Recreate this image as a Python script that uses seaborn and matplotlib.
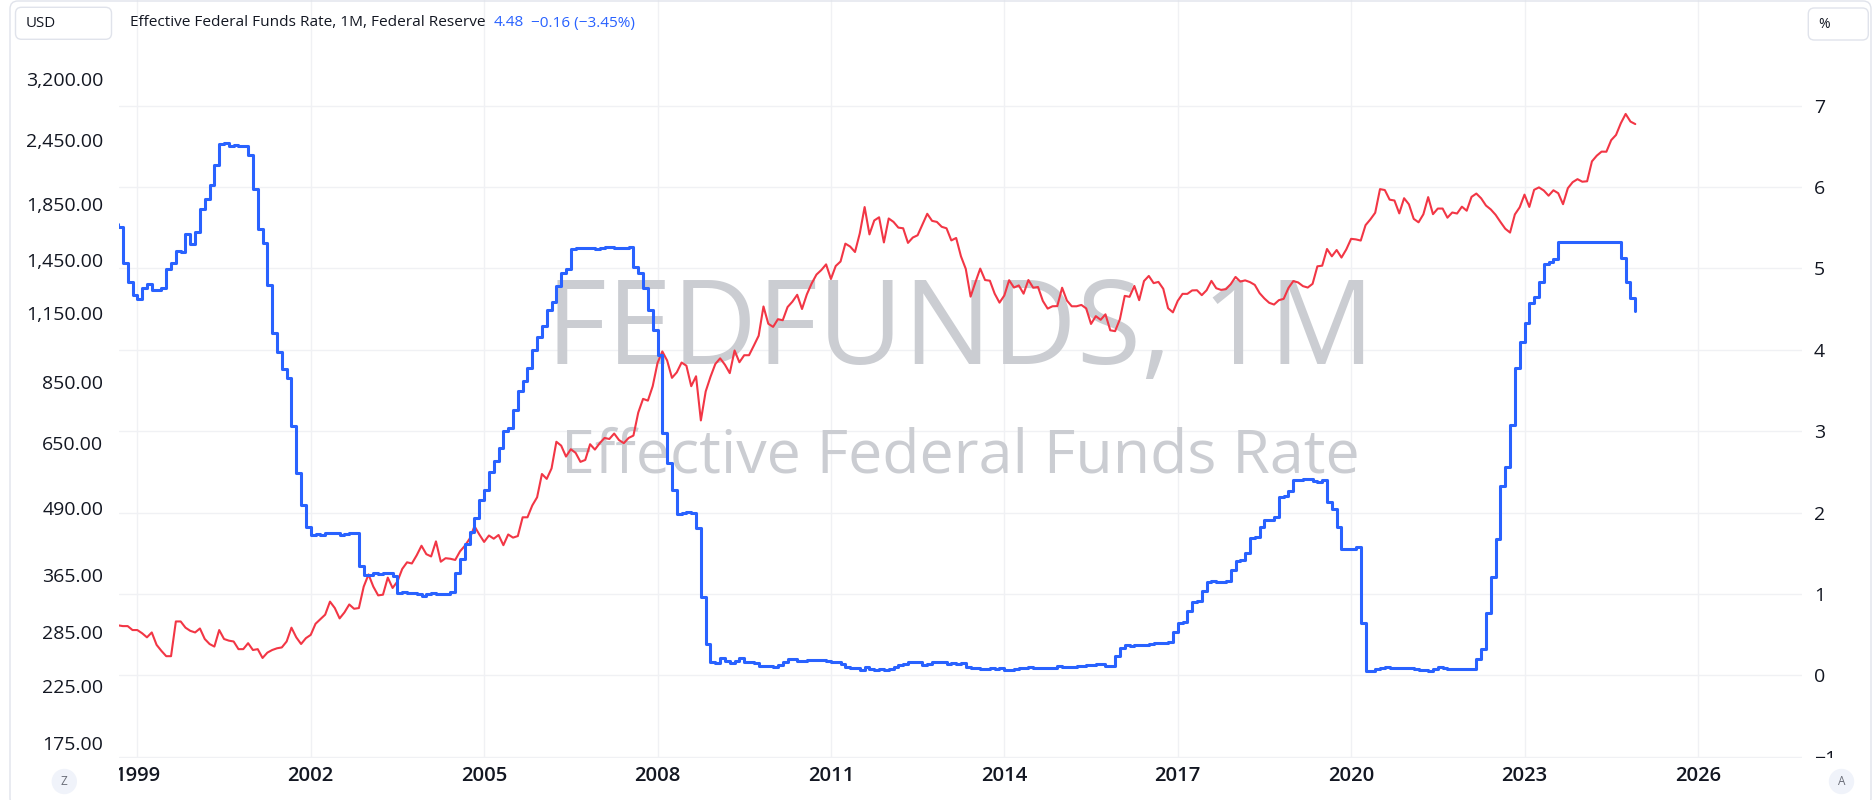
import numpy as np
import pandas as pd
import matplotlib
matplotlib.use("Agg")
import matplotlib.pyplot as plt
import seaborn as sns
from matplotlib.patches import FancyBboxPatch, Circle
from matplotlib.transforms import Bbox, IdentityTransform
from matplotlib.ticker import FixedLocator, FuncFormatter, NullLocator, FixedFormatter

# ---------------- data ----------------
start_year, start_month = 1998, 8

fed_funds = [
    5.55, 5.51, 5.07, 4.83, 4.68,
    4.63, 4.76, 4.81, 4.74, 4.74, 4.76, 4.99, 5.07, 5.22, 5.20, 5.42, 5.30,
    5.45, 5.73, 5.85, 6.02, 6.27, 6.53, 6.54, 6.50, 6.52, 6.51, 6.51, 6.40,
    5.98, 5.49, 5.31, 4.80, 4.21, 3.97, 3.77, 3.65, 3.07, 2.49, 2.09, 1.82,
    1.73, 1.74, 1.73, 1.75, 1.75, 1.75, 1.73, 1.74, 1.75, 1.75, 1.34, 1.24,
    1.24, 1.26, 1.25, 1.26, 1.26, 1.22, 1.01, 1.03, 1.01, 1.01, 1.00, 0.98,
    1.00, 1.01, 1.00, 1.00, 1.00, 1.03, 1.26, 1.43, 1.61, 1.76, 1.93, 2.16,
    2.28, 2.50, 2.63, 2.79, 3.00, 3.04, 3.26, 3.50, 3.62, 3.78, 4.00, 4.16,
    4.29, 4.49, 4.59, 4.79, 4.94, 4.99, 5.24, 5.25, 5.25, 5.25, 5.25, 5.24,
    5.25, 5.26, 5.26, 5.25, 5.25, 5.25, 5.26, 5.02, 4.94, 4.76, 4.49, 4.24,
    3.94, 2.98, 2.61, 2.28, 1.98, 2.00, 2.01, 2.00, 1.81, 0.97, 0.39, 0.16,
    0.15, 0.22, 0.18, 0.15, 0.18, 0.21, 0.16, 0.16, 0.15, 0.12, 0.12, 0.12,
    0.11, 0.13, 0.16, 0.20, 0.20, 0.18, 0.18, 0.19, 0.19, 0.19, 0.19, 0.18,
    0.17, 0.16, 0.14, 0.10, 0.09, 0.09, 0.07, 0.10, 0.08, 0.07, 0.08, 0.07,
    0.08, 0.10, 0.13, 0.14, 0.16, 0.16, 0.16, 0.13, 0.14, 0.16, 0.16, 0.16,
    0.14, 0.15, 0.14, 0.15, 0.11, 0.09, 0.09, 0.08, 0.08, 0.09, 0.08, 0.09,
    0.07, 0.07, 0.08, 0.09, 0.09, 0.10, 0.09, 0.09, 0.09, 0.09, 0.09, 0.12,
    0.11, 0.11, 0.11, 0.12, 0.12, 0.13, 0.13, 0.14, 0.14, 0.12, 0.12, 0.24,
    0.34, 0.38, 0.36, 0.37, 0.37, 0.38, 0.39, 0.40, 0.40, 0.40, 0.41, 0.54,
    0.65, 0.66, 0.79, 0.90, 0.91, 1.04, 1.15, 1.16, 1.15, 1.15, 1.16, 1.30,
    1.41, 1.42, 1.51, 1.69, 1.70, 1.82, 1.91, 1.91, 1.95, 2.19, 2.20, 2.27,
    2.40, 2.40, 2.41, 2.42, 2.39, 2.38, 2.40, 2.13, 2.04, 1.83, 1.55, 1.55,
    1.55, 1.58, 0.65, 0.05, 0.05, 0.08, 0.09, 0.10, 0.09, 0.09, 0.09, 0.09,
    0.09, 0.08, 0.07, 0.07, 0.06, 0.08, 0.10, 0.09, 0.08, 0.08, 0.08, 0.08,
    0.08, 0.08, 0.20, 0.33, 0.77, 1.21, 1.68, 2.33, 2.56, 3.08, 3.78, 4.10,
    4.33, 4.57, 4.65, 4.83, 5.06, 5.08, 5.12, 5.33, 5.33, 5.33, 5.33, 5.33,
    5.33, 5.33, 5.33, 5.33, 5.33, 5.33, 5.33, 5.33, 5.13, 4.83, 4.64, 4.48,
]

gold_usd = [
    284, 293, 292, 292, 287,
    287, 283, 278, 284, 269, 262, 256, 256, 298, 298, 290, 286,
    284, 289, 276, 270, 267, 287, 276, 274, 273, 264, 264, 271,
    263, 264, 254, 260, 263, 265, 266, 273, 290, 278, 270, 277,
    281, 295, 301, 307, 325, 316, 302, 310, 321, 315, 316, 347,
    366, 347, 334, 335, 361, 345, 355, 375, 386, 384, 398, 415,
    400, 396, 423, 387, 393, 392, 390, 405, 415, 428, 452, 436,
    422, 434, 428, 435, 416, 436, 430, 433, 470, 470, 495, 513,
    568, 556, 582, 654, 643, 613, 633, 623, 599, 604, 647, 632,
    650, 665, 662, 678, 659, 650, 665, 672, 743, 789, 783, 834,
    923, 971, 933, 865, 886, 925, 912, 834, 871, 718, 815, 869,
    919, 942, 916, 883, 975, 926, 955, 955, 996, 1040, 1182, 1096,
    1081, 1118, 1113, 1179, 1207, 1244, 1169, 1246, 1307, 1359, 1386, 1421,
    1333, 1411, 1439, 1556, 1536, 1500, 1628, 1826, 1620, 1722, 1746, 1564,
    1737, 1711, 1669, 1664, 1561, 1598, 1614, 1692, 1773, 1719, 1711, 1675,
    1664, 1578, 1595, 1472, 1393, 1234, 1314, 1395, 1327, 1323, 1250, 1202,
    1240, 1326, 1284, 1296, 1250, 1327, 1283, 1287, 1211, 1171, 1183, 1184,
    1283, 1213, 1183, 1183, 1190, 1172, 1095, 1133, 1115, 1142, 1065, 1061,
    1118, 1238, 1233, 1293, 1215, 1321, 1351, 1309, 1316, 1277, 1173, 1152,
    1211, 1249, 1249, 1268, 1269, 1242, 1269, 1322, 1280, 1271, 1275, 1303,
    1345, 1318, 1325, 1315, 1299, 1253, 1224, 1201, 1192, 1215, 1222, 1282,
    1321, 1313, 1292, 1284, 1305, 1409, 1413, 1520, 1472, 1513, 1464, 1517,
    1589, 1585, 1577, 1687, 1730, 1781, 1975, 1967, 1886, 1879, 1776, 1898,
    1848, 1734, 1708, 1769, 1907, 1770, 1814, 1814, 1743, 1783, 1775, 1829,
    1797, 1909, 1937, 1897, 1838, 1807, 1765, 1711, 1661, 1633, 1768, 1824,
    1928, 1827, 1969, 1990, 1963, 1919, 1965, 1940, 1849, 1983, 2036, 2063,
    2040, 2044, 2230, 2286, 2327, 2326, 2447, 2503, 2635, 2744, 2654, 2625,
]

year_ticks = [1999, 2002, 2005, 2008, 2011, 2014, 2017, 2020, 2023, 2026]
usd_ticks = [175, 225, 285, 365, 490, 650, 850, 1150, 1450, 1850, 2450, 3200]
pct_ticks = [-1, 0, 1, 2, 3, 4, 5, 6, 7]

title_text = "Effective Federal Funds Rate, 1M, Federal Reserve"
last_value = "4.48"
last_change = "\u22120.16 (\u22123.45%)"
watermark_big = "FEDFUNDS, 1M"
watermark_small = "Effective Federal Funds Rate"

n = len(fed_funds)
months_idx = np.arange(n) + (start_month - 1)
df = pd.DataFrame({
    "t": start_year + months_idx / 12.0,
    "fed": fed_funds,
    "gold": gold_usd,
})

# ---------------- style ----------------
sns.set_theme(style="white")
plt.rcParams["font.family"] = ["Open Sans", "DejaVu Sans"]
plt.rcParams["axes.unicode_minus"] = True

W, H = 1874, 800
fig = plt.figure(figsize=(W / 100, H / 100), dpi=100)
fig.patch.set_facecolor("white")

RED = "#f23645"
BLUE = "#2962ff"
GRID = "#f0f1f4"
TXT = "#131722"
WM = "#cbcdd2"

pane_l, pane_r, pane_t, pane_b = 119, 1802, 0, 757.7
rect = [pane_l / W, (H - pane_b) / H, (pane_r - pane_l) / W, (pane_b - pane_t) / H]

ax = fig.add_axes(rect)          # base: % scale, grid, watermark
axL = ax.twinx()                 # red, log USD scale (left)
axB = ax.twinx()                 # blue, % scale

xlim = (1998.683, 2027.801)
pct_lim = (-1.01, 8.2985)
usd_lim = (164.2, 4517.0)

for a in (ax, axL, axB):
    a.set_xlim(*xlim)
    for s in a.spines.values():
        s.set_visible(False)
    a.set_facecolor("none")
ax.set_facecolor("white")

# grid on base axes
ax.set_ylim(*pct_lim)
ax.xaxis.set_major_locator(FixedLocator(year_ticks))
ax.xaxis.set_major_formatter(FixedFormatter([str(y) for y in year_ticks]))
ax.yaxis.set_major_locator(FixedLocator(pct_ticks))
ax.yaxis.set_major_formatter(FixedFormatter(
    [("\u2212" + str(-v)) if v < 0 else str(v) for v in pct_ticks]))
ax.grid(True, color=GRID, linewidth=1.0)
ax.set_axisbelow(True)
ax.yaxis.tick_right()
ax.tick_params(axis="y", which="both", length=0, pad=8.6, labelsize=14.0,
               labelcolor=TXT, labelright=True, labelleft=False)
ax.tick_params(axis="x", which="both", length=0, pad=6.0, labelsize=14.6,
               labelcolor=TXT)
for lab in ax.get_xticklabels():
    lab.set_fontweight("semibold")

# watermark (in base axes so lines draw over it)
ax.text(960.5 / W, 1 - 364 / H, watermark_big, transform=fig.transFigure,
        ha="center", va="baseline", fontsize=84.5, color=WM, zorder=1)
ax.text(960.5 / W, 1 - 472.5 / H, watermark_small, transform=fig.transFigure,
        ha="center", va="baseline", fontsize=43.8, color=WM, zorder=1)

# red: gold price, log scale on left
axL.set_yscale("log")
sns.lineplot(data=df, x="t", y="gold", ax=axL, color=RED, linewidth=1.5,
             estimator=None, sort=True)
axL.set_ylim(*usd_lim)
axL.yaxis.set_major_locator(FixedLocator(usd_ticks))
axL.yaxis.set_minor_locator(NullLocator())
axL.yaxis.set_major_formatter(FuncFormatter(lambda v, p: f"{v:,.2f}"))
axL.yaxis.tick_left()
axL.tick_params(axis="y", which="both", length=0, pad=11.3, labelsize=14.0,
                labelcolor=TXT, labelleft=True, labelright=False)
axL.tick_params(axis="x", length=0, labelbottom=False)
axL.set_xlabel("")
axL.set_ylabel("")

# blue: fed funds step line, % scale
sns.lineplot(data=df, x="t", y="fed", ax=axB, color=BLUE, linewidth=2.2,
             drawstyle="steps-post", estimator=None, sort=True)
axB.set_ylim(*pct_lim)
axB.set_yticks([])
axB.tick_params(axis="x", length=0, labelbottom=False)
axB.set_xlabel("")
axB.set_ylabel("")
ax.set_xlabel("")
ax.set_ylabel("")

# clip tick labels at pane edges like the reference
clip_x = Bbox([[pane_l, 0], [W, H]])
for t in ax.xaxis.get_major_ticks():
    t.label1.set_clip_box(clip_x)
    t.label1.set_clip_on(True)
clip_y = Bbox([[0, H - pane_b], [W, H]])
for t in ax.yaxis.get_major_ticks():
    t.label2.set_clip_box(clip_y)
    t.label2.set_clip_on(True)

# ---------------- chrome ----------------
ID = IdentityTransform()

def Y(y):
    return H - y

frame = FancyBboxPatch((10, Y(806)), 1861, 805,
                       boxstyle="round,pad=0,rounding_size=8",
                       transform=ID, facecolor="none", edgecolor="#e0e3eb",
                       linewidth=1.0, zorder=10)
fig.add_artist(frame)

usd_box = FancyBboxPatch((15.5, Y(39.3)), 96, 32,
                         boxstyle="round,pad=0,rounding_size=6",
                         transform=ID, facecolor="white", edgecolor="#e0e3eb",
                         linewidth=1.0, zorder=10)
fig.add_artist(usd_box)
fig.text(26 / W, 1 - 23.3 / H, "USD", ha="left", va="center",
         fontsize=10.8, color=TXT, zorder=11)

pct_box = FancyBboxPatch((1808.3, Y(40)), 60, 32,
                         boxstyle="round,pad=0,rounding_size=6",
                         transform=ID, facecolor="white", edgecolor="#e0e3eb",
                         linewidth=1.0, zorder=10)
fig.add_artist(pct_box)
fig.text(1818 / W, 1 - 24 / H, "%", ha="left", va="center",
         fontsize=10.0, color=TXT, zorder=11)

fig.text(129.5 / W, 1 - 23 / H, title_text, ha="left", va="center",
         fontsize=11.1, color=TXT, zorder=11)
fig.text(493.3 / W, 1 - 23 / H, last_value, ha="left", va="center",
         fontsize=11.1, color=BLUE, zorder=11)
fig.text(531 / W, 1 - 23 / H, last_change, ha="left", va="center",
         fontsize=11.1, color=BLUE, zorder=11)

for cx, letter in ((64.3, "Z"), (1841.5, "A")):
    fig.add_artist(Circle((cx, Y(781.5)), 12.7, transform=ID,
                          facecolor="#f0f3fa", edgecolor="none", zorder=10))
    fig.text(cx / W, 1 - 781.5 / H, letter, ha="center", va="center",
             fontsize=8.5, color="#6a6d78", zorder=11)

fig.savefig("out.png", dpi=100, facecolor="white")
